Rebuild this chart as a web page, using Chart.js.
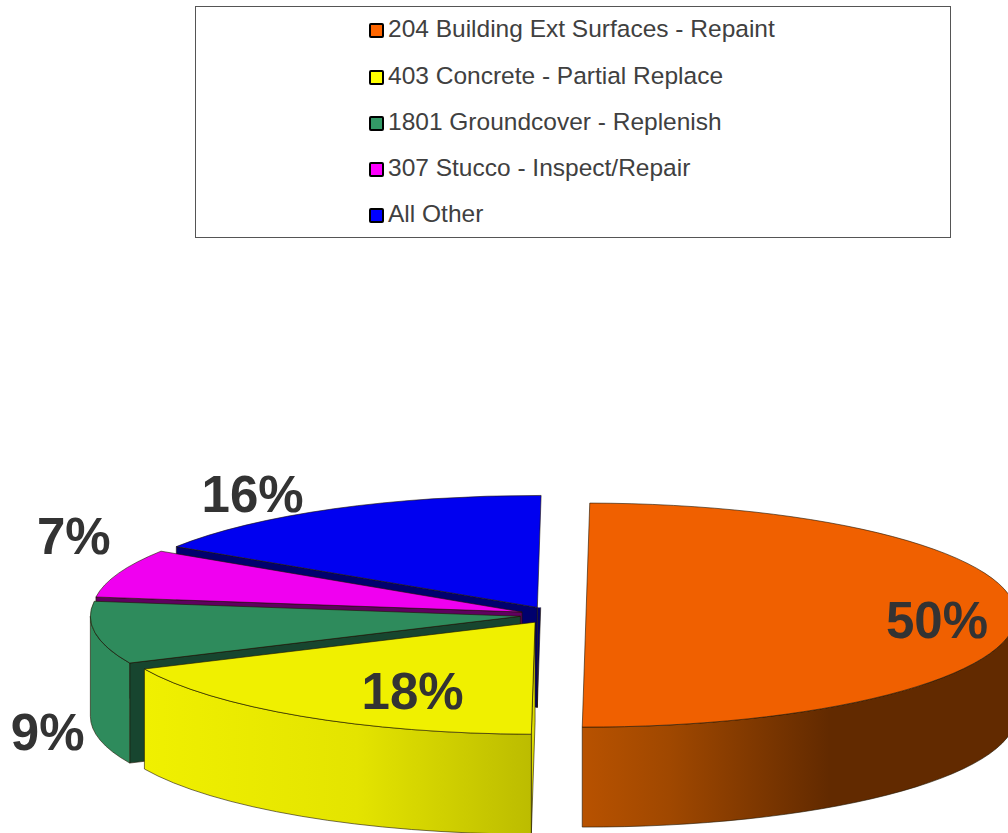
<!DOCTYPE html>
<html>
<head>
<meta charset="utf-8">
<title>Reserve components</title>
<script src="https://cdn.jsdelivr.net/npm/chart.js@4"></script>
<style>
body { margin: 0; background: #fff; font-family: "Liberation Sans", Arial, sans-serif; }
#wrap { position: relative; width: 1008px; height: 833px; overflow: hidden; }
#pieChart { position: absolute; left: 0; top: 0; }
#legendBox { position: absolute; left: 195px; top: 6px; width: 754px; height: 230px; border: 1px solid #555; background: #fff; }
.row { position: absolute; left: 173px; height: 30px; line-height: 30px; font-size: 24.5px; color: #404040; white-space: nowrap; }
.swatch { display: inline-block; width: 11px; height: 11px; border: 2px solid #000; border-radius: 2px; margin-right: 4px; vertical-align: -1px; }
</style>
</head>
<body>
<div id="wrap">
  <canvas id="pieChart" width="1008" height="833"></canvas>
  <div id="legendBox"></div>
</div>
<script>
var categories = ['204 Building Ext Surfaces - Repaint', '403 Concrete - Partial Replace', '1801 Groundcover - Replenish', '307 Stucco - Inspect/Repair', 'All Other'];
var shares = [50, 18, 9, 7, 16];

var topColors = ['#F06000', '#F0F000', '#2E8B5C', '#F000F0', '#0000F0'];
var legendColors = ['#FF6600', '#FFFF00', '#339966', '#FF00FF', '#0000FF'];
var edgeColors = ['#8A3C00', '#DEDD00', '#17452F', '#5F005F', '#00006E'];
var wallStops = [
    [[0, '#B85200'], [0.2, '#A04800'], [0.57, '#622A00'], [1, '#622A00']],
    [[0, '#F0F000'], [0.55, '#E4E400'], [1, '#BCBC00']],
    [[0, '#2E8B5C'], [1, '#2E8B5C']],
    [[0, '#F000F0'], [1, '#F000F0']],
    [[0, '#0000F0'], [1, '#0000F0']]
];

// squashed look of the pie, in pixels
var radiusX = 430, radiusY = 112, depth = 100, explode = 33;
var labelNudge = [[50, 8], [41, 7], [-175, 108], [-166, -45], [-142, -40]];

// legend
var legendBox = document.getElementById('legendBox');
categories.forEach(function (name, i) {
    var row = document.createElement('div');
    row.className = 'row';
    row.style.top = (7.4 + i * 46.2) + 'px';
    var swatch = document.createElement('span');
    swatch.className = 'swatch';
    swatch.style.background = legendColors[i];
    row.appendChild(swatch);
    row.appendChild(document.createTextNode(name));
    legendBox.appendChild(row);
});

// centre of a slice once it is pulled out of the pie
function sliceCentre(arc) {
    var mid = (arc.startAngle + arc.endAngle) / 2;
    return {
        x: arc.x + Math.cos(mid) * explode,
        y: arc.y + Math.sin(mid) * explode * radiusY / radiusX,
        mid: mid
    };
}

function edgePoint(c, angle) {
    return { x: c.x + Math.cos(angle) * radiusX, y: c.y + Math.sin(angle) * radiusY };
}

function drawRadialWall(ctx, c, angle, color) {
    var p = edgePoint(c, angle);
    ctx.save();
    // a wall running to the back of the pie only shows below the centre
    if (p.y < c.y && Math.abs(p.x - c.x) < 10) {
        ctx.beginPath();
        ctx.rect(0, c.y, 1008, 833);
        ctx.clip();
    }
    ctx.beginPath();
    ctx.moveTo(c.x, c.y);
    ctx.lineTo(p.x, p.y);
    ctx.lineTo(p.x, p.y + depth);
    ctx.lineTo(c.x, c.y + depth);
    ctx.closePath();
    ctx.fillStyle = color;
    ctx.fill();
    ctx.stroke();
    ctx.restore();
}

function drawOuterWall(ctx, c, arc, stops) {
    // only the front half of the rim can be seen
    var from = Math.max(arc.startAngle, 0);
    var to = Math.min(arc.endAngle, Math.PI);
    if (to <= from) return;
    var a = edgePoint(c, to), b = edgePoint(c, from);
    var grad = ctx.createLinearGradient(a.x, 0, b.x, 0);
    stops.forEach(function (s) { grad.addColorStop(s[0], s[1]); });
    ctx.beginPath();
    ctx.ellipse(c.x, c.y, radiusX, radiusY, 0, from, to);
    ctx.lineTo(a.x, a.y + depth);
    ctx.ellipse(c.x, c.y + depth, radiusX, radiusY, 0, to, from, true);
    ctx.closePath();
    ctx.fillStyle = grad;
    ctx.fill();
    ctx.stroke();
}

var pie3d = {
    id: 'pie3d',
    beforeDatasetDraw: function (chart, args) {
        var ctx = chart.ctx;
        var arcs = args.meta.data;
        // back to front
        [4, 3, 2, 1, 0].forEach(function (i) {
            var arc = arcs[i];
            var c = sliceCentre(arc);
            var s = arc.startAngle, e = arc.endAngle;
            ctx.save();
            ctx.lineWidth = 0.8;
            ctx.strokeStyle = 'rgba(30,20,0,0.75)';
            // startAngle/endAngle are measured from 3 o'clock, rim faces us for 0..PI
            if (Math.cos(s) < 0) drawRadialWall(ctx, c, s, edgeColors[i]);
            if (Math.cos(e) > 0) drawRadialWall(ctx, c, e, edgeColors[i]);
            drawOuterWall(ctx, c, arc, wallStops[i]);

            ctx.save();
            ctx.translate(c.x, c.y);
            ctx.scale(radiusX / arc.outerRadius, radiusY / arc.outerRadius);
            ctx.translate(-arc.x, -arc.y);
            arc.draw(ctx);
            ctx.restore();

            ctx.beginPath();
            ctx.moveTo(c.x, c.y);
            ctx.ellipse(c.x, c.y, radiusX, radiusY, 0, s, e);
            ctx.closePath();
            ctx.stroke();
            ctx.restore();
        });
        return false;
    },
    afterDatasetsDraw: function (chart) {
        var ctx = chart.ctx;
        var arcs = chart.getDatasetMeta(0).data;
        ctx.save();
        ctx.font = 'bold 51px "Liberation Sans", Arial, sans-serif';
        ctx.fillStyle = '#333333';
        ctx.textAlign = 'center';
        ctx.textBaseline = 'middle';
        shares.forEach(function (v, i) {
            var c = sliceCentre(arcs[i]);
            var x = c.x + Math.cos(c.mid) * radiusX * 0.7 + labelNudge[i][0];
            var y = c.y + Math.sin(c.mid) * radiusY * 0.7 + labelNudge[i][1];
            ctx.fillText(v + '%', x, y);
        });
        ctx.restore();
    }
};

var ctxPie = document.getElementById('pieChart').getContext('2d');
var pieChart = new Chart(ctxPie, {
    type: 'pie',
    data: {
        labels: categories,
        datasets: [{
            data: shares,
            backgroundColor: topColors,
            borderWidth: 0,
            clip: false
        }]
    },
    options: {
        responsive: false,
        animation: false,
        rotation: 0.5,
        layout: { padding: { top: 397, left: 335, right: 237, bottom: 0 } },
        plugins: {
            legend: { display: false },
            tooltip: { enabled: false }
        }
    },
    plugins: [pie3d]
});
</script>
</body>
</html>
